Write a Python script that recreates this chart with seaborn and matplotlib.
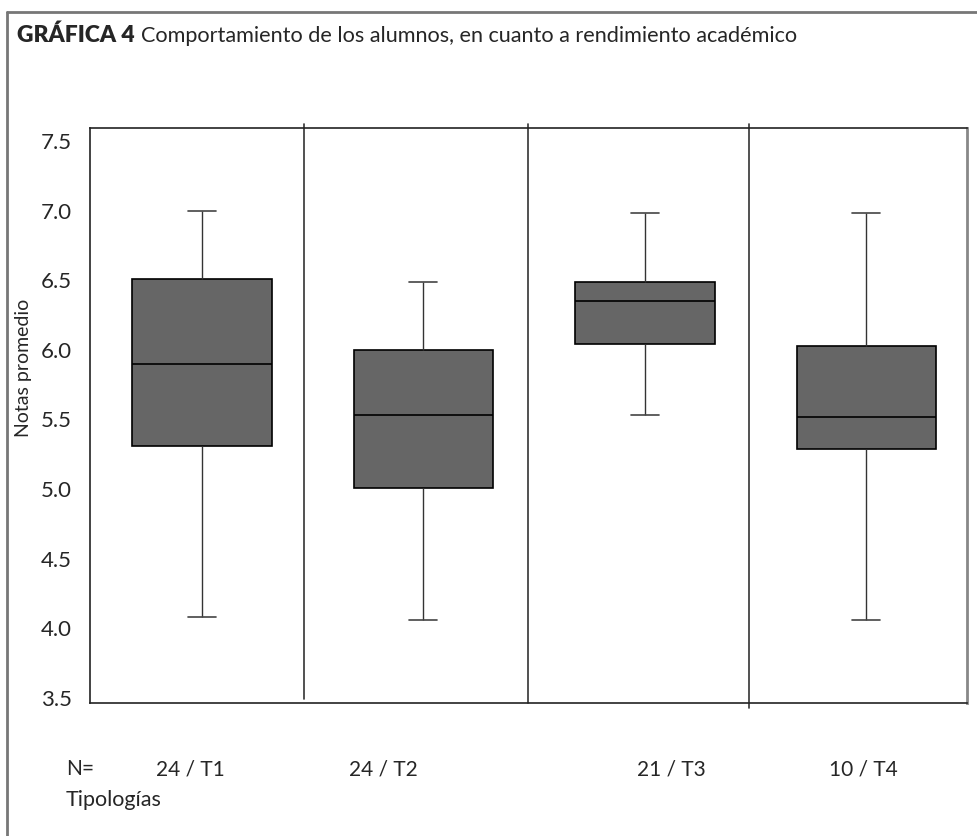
import numpy as np
import pandas as pd
import matplotlib.pyplot as plt
from matplotlib.lines import Line2D
import seaborn as sns

# Datos (resumen de cinco numeros por tipologia)
tipologias = ['T1', 'T2', 'T3', 'T4']
n_alumnos = [24, 24, 21, 10]
minimos = [4.08, 4.06, 5.53, 4.06]
cuartil_1 = [5.31, 5.01, 6.04, 5.29]
medianas = [5.90, 5.53, 6.35, 5.52]
cuartil_3 = [6.51, 6.00, 6.49, 6.03]
maximos = [7.00, 6.49, 6.98, 6.98]
y_ticks = [3.5, 4.0, 4.5, 5.0, 5.5, 6.0, 6.5, 7.0, 7.5]

# tabla larga: con 5 valores los cuartiles de seaborn caen justo en Q1, mediana, Q3
filas = []
for i, t in enumerate(tipologias):
    for v in [minimos[i], cuartil_1[i], medianas[i], cuartil_3[i], maximos[i]]:
        filas.append({'tipologia': t, 'nota': v})
df = pd.DataFrame(filas)

sns.set_style('white')
plt.rcParams['font.family'] = ['Lato', 'DejaVu Sans']

fig = plt.figure(figsize=(9.78, 8.36), dpi=100)
ax = fig.add_axes([0.092, 0.159, 0.897, 0.688])

ancho = 0.63
sns.boxplot(data=df, x='tipologia', y='nota', order=tipologias, width=ancho,
            whis=np.inf, color='#666666', linecolor='black', linewidth=1.2,
            saturation=1, ax=ax)

# bigotes mas cortos (caps)
for ln in ax.lines:
    x = np.asarray(ln.get_xdata(), dtype=float)
    y = np.asarray(ln.get_ydata(), dtype=float)
    if len(x) == 2 and y[0] == y[1] and abs(x[1] - x[0]) < 0.8 * ancho:
        c = x.mean()
        ln.set_xdata([c - 0.063, c + 0.063])
        ln.set_linewidth(1.2)
        ln.set_color('#444444')
    elif len(x) == 2 and x[0] == x[1]:
        ln.set_linewidth(1.0)
        ln.set_color('#333333')

ax.set_xlim(-0.506, 3.456)
ax.set_ylim(3.464, 7.593)
ax.set_yticks(y_ticks)
ax.set_yticklabels([f'{t:.1f}' for t in y_ticks], fontsize=16)
ax.set_xticks([])
ax.set_xlabel('')
ax.set_ylabel('')
ax.tick_params(axis='y', length=0, pad=13)

for s in ['left', 'top', 'bottom']:
    ax.spines[s].set_color('#222222')
    ax.spines[s].set_linewidth(1.2)
ax.spines['right'].set_color('#888888')
ax.spines['right'].set_linewidth(2)

# lineas verticales que separan las tipologias
divisiones = [0.46, 1.47, 2.47]
extremos = [(0.007, 1.007), (0.0, 1.007), (-0.008, 1.007)]
for xd, (y0, y1) in zip(divisiones, extremos):
    ax.plot([xd, xd], [y0, y1], transform=ax.get_xaxis_transform(),
            color='#333333', lw=1.2, clip_on=False)

# marco exterior
fig.add_artist(Line2D([7 / 978, 1.0], [1 - 12 / 836, 1 - 12 / 836],
                      color='#777777', lw=2))
fig.add_artist(Line2D([7 / 978, 7 / 978], [0.0, 1 - 12 / 836],
                      color='#777777', lw=2))

# titulo
t1 = fig.text(17 / 978, 1 - 42 / 836, 'GRÁFICA 4', fontsize=16.5,
              fontweight='heavy', va='baseline', ha='left')
fig.canvas.draw()
r = fig.canvas.get_renderer()
bb = t1.get_window_extent(r)
fig.text((bb.x1 + 6) / 978, 1 - 42 / 836,
         'Comportamiento de los alumnos, en cuanto a rendimiento académico',
         fontsize=15.6, va='baseline', ha='left')

fig.text(24 / 978, 1 - 368 / 836, 'Notas promedio', rotation=90,
         fontsize=14, ha='center', va='center')

# etiquetas inferiores
fig.text(66 / 978, 1 - 775 / 836, 'N=', fontsize=15, va='baseline', ha='left')
etiqueta_x = [190, 383, 671, 863]
for xp, n, t in zip(etiqueta_x, n_alumnos, tipologias):
    fig.text(xp / 978, 1 - 775 / 836, f'{n} / {t}', fontsize=15,
             va='baseline', ha='center')
fig.text(66 / 978, 1 - 806 / 836, 'Tipologías', fontsize=15.5,
         va='baseline', ha='left')

fig.savefig('out.png', dpi=100)
